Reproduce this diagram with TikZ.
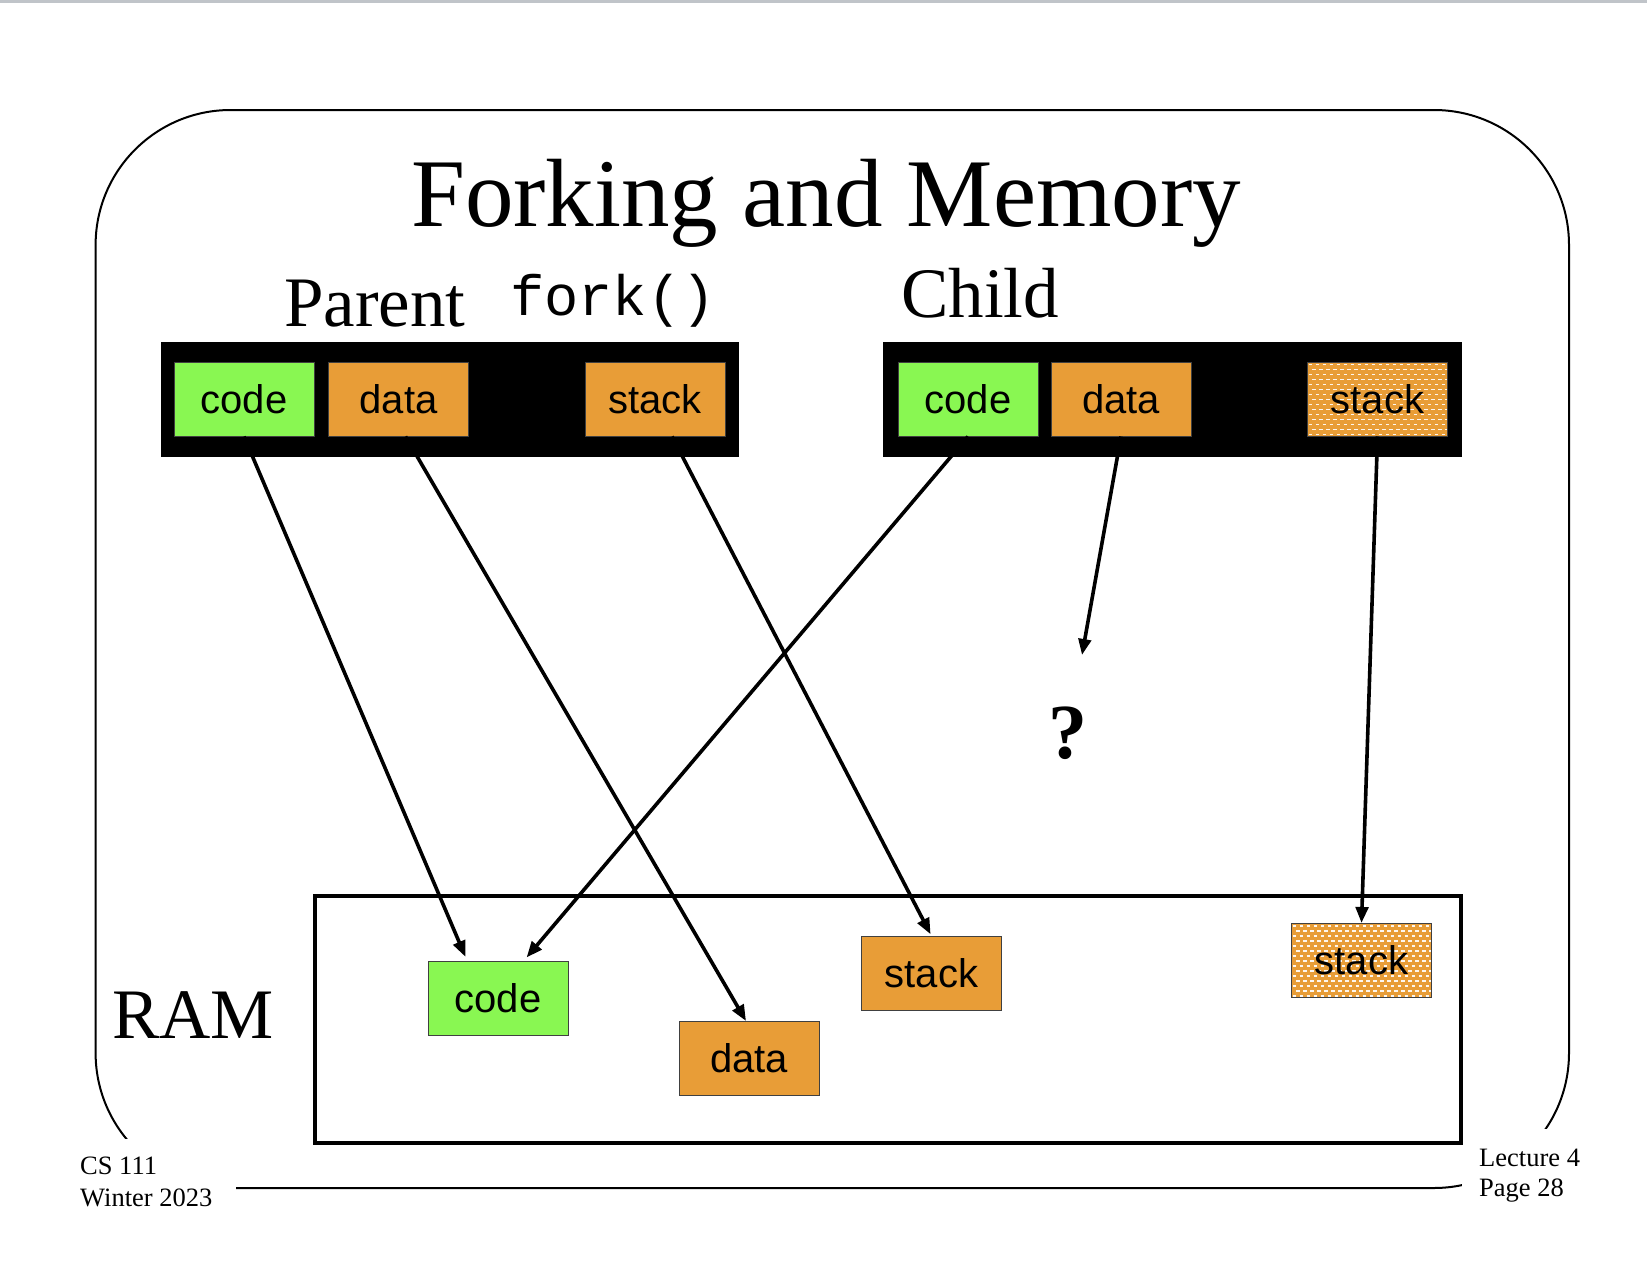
\documentclass[tikz,border=0pt]{standalone}
\usepackage{fontspec}
\setmainfont{Liberation Serif}
\newfontfamily\boxfont{Liberation Sans}
\newfontfamily\codefont{Liberation Mono}
\usetikzlibrary{arrows.meta}
\definecolor{seggreen}{RGB}{137,247,82}
\definecolor{segorange}{RGB}{232,157,55}
\definecolor{topgray}{RGB}{192,196,201}
\begin{document}
\begin{tikzpicture}[x=1pt,y=-1pt,
  seg/.style={draw=black!75, line width=1pt, minimum width=140pt, minimum height=74pt,
    inner sep=0pt, font=\fontsize{40}{40}\selectfont\boxfont},
  codeseg/.style={seg, fill=seggreen},
  dataseg/.style={seg, fill=segorange},
  dotseg/.style={seg, fill=segorange, path picture={
      \foreach \r in {0,...,14}{
        \foreach \c in {0,...,20}{
          \draw[white!92!segorange, line width=1.6pt]
            ([shift={({\c*7+mod(\r,2)*3.5+1},{\r*5+2.5})}]path picture bounding box.north west) -- ++(3.8,0);
        }}}},
  bar/.style={fill=black, minimum width=578pt, minimum height=115pt, inner sep=0pt},
  link/.style={line width=3.6pt, -{Triangle[length=16pt,width=12.5pt]}},
  serifbig/.style={font=\fontsize{71}{71}\selectfont},
  foot/.style={font=\fontsize{26.5}{26.5}\selectfont, anchor=base west, inner sep=0pt}
]
\useasboundingbox (0,0) rectangle (1647,1280);
\fill[white] (0,0) rectangle (1647,1280);
\draw[topgray, line width=3pt] (0,1.5) -- (1647,1.5);

% slide frame
\draw[line width=2pt, rounded corners=135pt] (95.6,110) rectangle (1569,1188);
\fill[white] (0,1139) rectangle (236,1280);
\fill[white] (1462,1129) rectangle (1647,1280);

% title and labels
\node[anchor=base, inner sep=0pt, font=\fontsize{97}{97}\selectfont] (title) at (826,226) {Forking and Memory};
\node[anchor=base west, inner sep=0pt, serifbig] (parentlbl) at (284,326) {Parent};
\node[anchor=base west, inner sep=0pt, font=\fontsize{57}{57}\selectfont\codefont] (forklbl) at (510,315) {fork()};
\node[anchor=base west, inner sep=0pt, serifbig] (childlbl) at (901,317) {Child};

% process address spaces
\node[bar] (pbar) at (450,399.5) {};
\node[bar, minimum width=579pt] (cbar) at (1172.5,399.5) {};
\node[codeseg] (pcode) at (244,399) {code};
\node[dataseg] (pdata) at (398.5,399) {data};
\node[dataseg] (pstack) at (655,399) {stack};
\node[codeseg] (ccode) at (968,399) {code};
\node[dataseg] (cdata) at (1121,399) {data};
\node[dotseg] (cstack) at (1377.5,399) {stack};

% RAM
\node[draw, line width=3.5pt, minimum width=1146pt, minimum height=247pt, inner sep=0pt] (ram) at (888,1019.5) {};
\node[anchor=base west, inner sep=0pt, serifbig] (ramlbl) at (112,1038) {RAM};
\node[codeseg] (rcode) at (498,998) {code};
\node[dataseg] (rdata) at (749,1058.5) {data};
\node[dataseg] (rstack) at (931.5,973.5) {stack};
\node[dotseg] (rcstack) at (1361.5,960.5) {stack};

% question
\node[anchor=base, inner sep=0pt, font=\fontsize{78}{78}\selectfont\bfseries] (qmark) at (1068,758) {?};
\coordinate (qend) at (1082,655);

% mappings
\draw[link, shorten >=4pt] (pcode.south) -- ([xshift=-31pt]rcode.north);
\draw[link] ([xshift=7pt]pdata.south) -- ([xshift=-3pt]rdata.north);
\draw[link, shorten >=2pt] ([xshift=17pt]pstack.south) -- (rstack.north);
\draw[link, shorten >=4pt] (ccode.south) -- ([xshift=26pt]rcode.north);
\draw[link] (cdata.south) -- (qend);
\draw[link] (cstack.south) -- (rcstack.north);

% footer
\node[foot] (course) at (80,1174) {CS 111};
\node[foot] (term) at (80,1206) {Winter 2023};
\node[foot] (lecture) at (1479,1166) {Lecture 4};
\node[foot] (page) at (1479,1196) {Page 28};
\end{tikzpicture}
\end{document}
